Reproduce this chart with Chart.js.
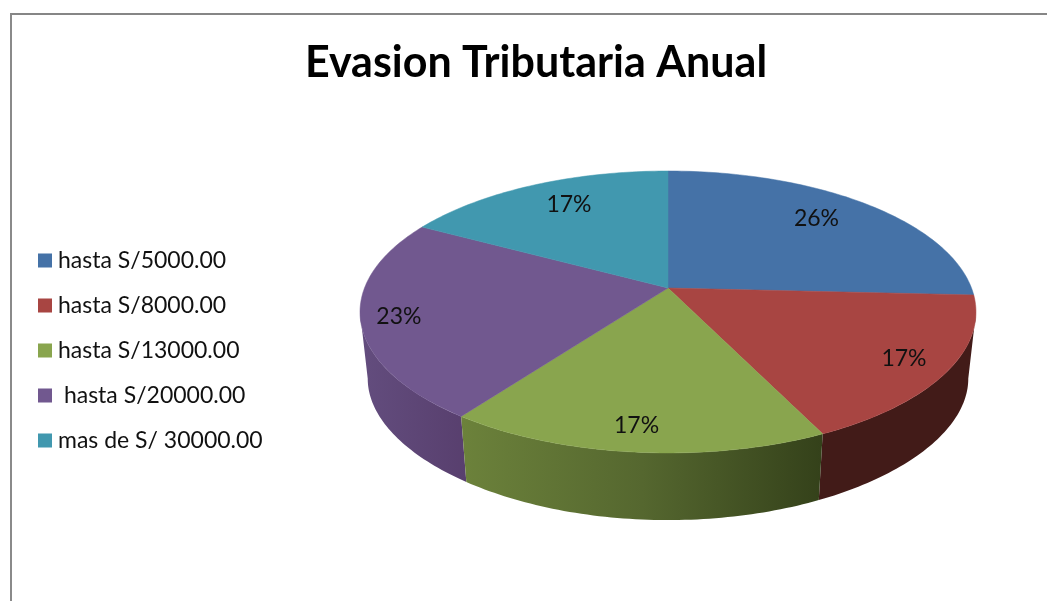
<!DOCTYPE html>
<html>
<head>
<meta charset="utf-8">
<style>
html,body{margin:0;padding:0;background:#fff;overflow:hidden}
#wrap{position:relative;width:1047px;height:601px}
#frame{position:absolute;left:10px;top:13px;right:-5px;bottom:-5px;border-left:2px solid #8a8a8a;border-top:2px solid #868686}
canvas{position:absolute;left:0;top:0}
</style>
<script src="https://cdn.jsdelivr.net/npm/chart.js@4/dist/chart.umd.min.js"></script>
</head>
<body>
<div id="wrap"><div id="frame"></div><canvas id="c" width="1047" height="601"></canvas></div>
<script>
const chartTitle = "Evasion Tributaria Anual";
const categories = ["hasta S/5000.00", "hasta S/8000.00", "hasta S/13000.00", " hasta S/20000.00", "mas de S/ 30000.00"];
const seriesValues = [25.8, 17.1, 17.1, 23, 17];
const topColors = ["#4572A7", "#A84542", "#89A54E", "#71588F", "#4198AF"];
const wallColors = [
  ["#2a4565", "#2a4565"],
  ["#421B18", "#421B18"],
  ["#6C823B", "#55672F", "#34411A"],
  ["#634D7E", "#583F6E"],
  ["#275b69", "#275b69"]
];
const labelRadii = [0.78, 0.855, 0.859, 0.879, 0.776];
const labelTurns = [-3, -0.5, 0.7, 0, 2.6];

// perspective view of the pie plane
const view = {cx: 668, cy: 288, R: 303.5, S: 136.9, p: 0.17, lowK: 0.975, lowCy: 356, lowS: 128, lowP: 0.22};
function project(theta, r, low) {
  const u = r * Math.sin(theta), v = -r * Math.cos(theta);
  const w = 1 - view.p * v;
  if (low) return [view.cx + view.lowK * view.R * u / w, view.lowCy + view.lowS * v / (1 - view.lowP * v)];
  return [view.cx + view.R * u / w, view.cy + view.S * v / w];
}
const STEP = Math.PI / 180;
function rimPoints(a, b, low) {
  const pts = [], n = Math.max(2, Math.ceil(Math.abs(b - a) / STEP));
  for (let i = 0; i <= n; i++) pts.push(project(a + (b - a) * i / n, 1, low));
  return pts;
}
function tracePoly(ctx, pts) {
  ctx.beginPath();
  pts.forEach((q, i) => i ? ctx.lineTo(q[0], q[1]) : ctx.moveTo(q[0], q[1]));
  ctx.closePath();
}

const pie3d = {
  id: 'pie3d',
  afterLayout(chart) {
    chart.legend.left = 21.5;
    chart.legend.top = 227;
  },
  beforeDatasetDraw(chart, args) {
    const ctx = chart.ctx, arcs = chart.getDatasetMeta(args.index).data;
    const sweep = arcs.map(a => [a.startAngle + Math.PI / 2, a.endAngle + Math.PI / 2]);
    ctx.save();
    // side walls, limited to the silhouette tangents of the rim
    const tangent = Math.acos(-view.p);
    const front = [tangent, 2 * Math.PI - tangent];
    [0, 4, 3, 1, 2].forEach(i => {
      const a = Math.max(sweep[i][0], front[0]), b = Math.min(sweep[i][1], front[1]);
      if (b <= a) return;
      const up = rimPoints(a, b, false), lo = rimPoints(b, a, true);
      const all = up.concat(lo), xs = all.map(q => q[0]);
      const g = ctx.createLinearGradient(Math.min(...xs), 0, Math.max(...xs), 0);
      wallColors[i].forEach((c, k, l) => g.addColorStop(k / (l.length - 1), c));
      tracePoly(ctx, all);
      ctx.fillStyle = g;
      ctx.fill();
    });
    // top surface
    arcs.forEach((arc, i) => {
      const pts = [[view.cx, view.cy]].concat(rimPoints(sweep[i][0], sweep[i][1], false));
      tracePoly(ctx, pts);
      ctx.fillStyle = arc.options.backgroundColor;
      ctx.fill();
      ctx.strokeStyle = arc.options.backgroundColor;
      ctx.lineWidth = 0.5;
      ctx.stroke();
    });
    // labels
    const total = seriesValues.reduce((s, v) => s + v, 0);
    ctx.font = '23px Lato';
    ctx.fillStyle = '#111';
    ctx.textAlign = 'center';
    ctx.textBaseline = 'middle';
    arcs.forEach((arc, i) => {
      const mid = (sweep[i][0] + sweep[i][1]) / 2 + labelTurns[i] * STEP;
      const q = project(mid, labelRadii[i], false);
      ctx.fillText(Math.round(seriesValues[i] / total * 100) + '%', q[0], q[1] + 1);
    });
    ctx.restore();
    return false;
  }
};

new Chart(document.getElementById('c'), {
  type: 'pie',
  data: {
    labels: categories,
    datasets: [{data: seriesValues, backgroundColor: topColors, borderWidth: 0}]
  },
  plugins: [pie3d],
  options: {
    responsive: false,
    animation: false,
    layout: {padding: {left: 25}},
    plugins: {
      tooltip: {enabled: false},
      title: {
        display: true,
        text: chartTitle,
        color: '#000',
        font: {family: 'Lato', size: 43, weight: 'bold'},
        padding: {top: 37, bottom: 10}
      },
      legend: {
        position: 'left',
        align: 'start',
        labels: {
          usePointStyle: true,
          pointStyle: 'rect',
          boxWidth: 3,
          boxHeight: 14,
          padding: 22,
          color: '#111',
          font: {family: 'Lato', size: 23}
        }
      }
    }
  }
});
</script>
</body>
</html>
